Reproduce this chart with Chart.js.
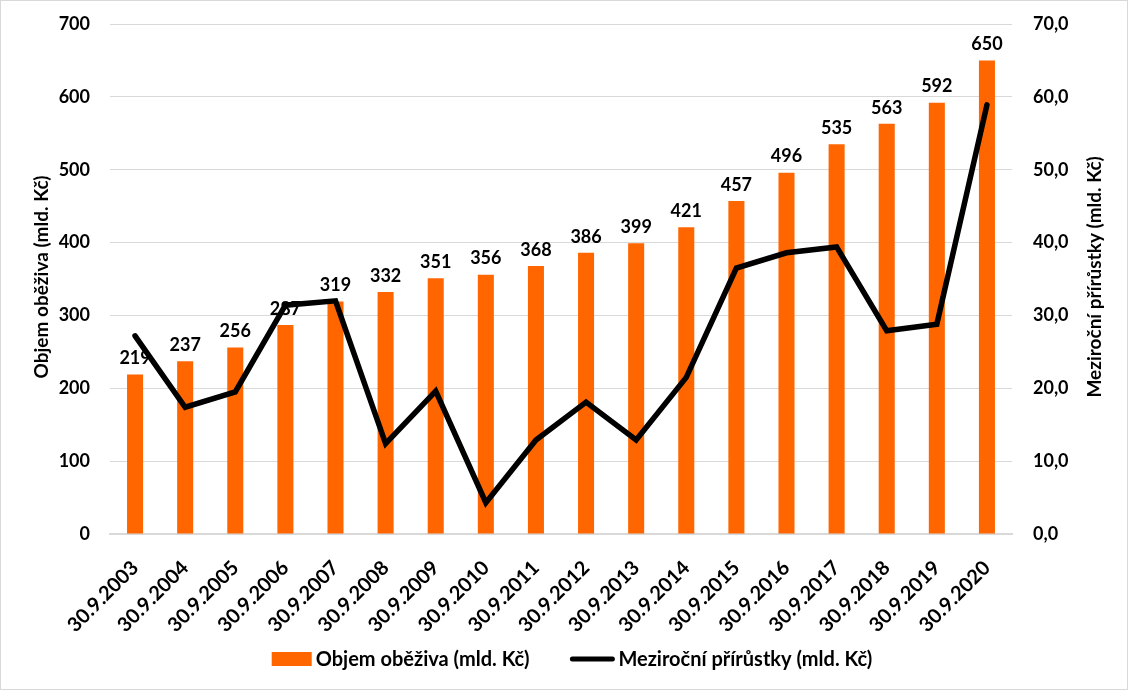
<!DOCTYPE html>
<html><head><meta charset="utf-8">
<script src="https://cdn.jsdelivr.net/npm/chart.js@4/dist/chart.umd.min.js"></script>
<style>
html,body{margin:0;padding:0;background:#fff;}
#wrap{position:relative;width:1126px;height:688px;border:1px solid #d9d9d9;}
</style></head><body>
<div id="wrap"><canvas id="c" width="1126" height="688"></canvas></div>
<script>
const categories = ["30.9.2003","30.9.2004","30.9.2005","30.9.2006","30.9.2007","30.9.2008","30.9.2009","30.9.2010","30.9.2011","30.9.2012","30.9.2013","30.9.2014","30.9.2015","30.9.2016","30.9.2017","30.9.2018","30.9.2019","30.9.2020"];
const objem = [219,237,256,287,319,332,351,356,368,386,399,421,457,496,535,563,592,650];
const prirustky = [27.2,17.4,19.5,31.4,32.0,12.4,19.6,4.3,12.9,18.1,12.9,21.5,36.5,38.6,39.4,27.9,28.8,58.9];
const leftTicks = [0,100,200,300,400,500,600,700];
const rightTicks = [0,10,20,30,40,50,60,70];
const barName = "Objem oběživa (mld. Kč)";
const lineName = "Meziroční přírůstky (mld. Kč)";
const barColor = "#FF6600";
const lineColor = "#000000";

const FONT = "Lato, 'Liberation Sans', sans-serif";

function zeroPad(s){ s.paddingTop = 0; s.paddingBottom = 0; s.paddingLeft = 0; s.paddingRight = 0; }

const extrasPlugin = {
  id: 'extras',
  afterDatasetDraw(chart, args) {
    if (args.index !== 0) return;
    const ctx = chart.ctx;
    ctx.save();
    ctx.font = "bold 18px " + FONT;
    ctx.fillStyle = "#000";
    ctx.textAlign = "center";
    ctx.textBaseline = "bottom";
    args.meta.data.forEach((el, i) => {
      ctx.fillText(String(objem[i]), el.x, el.y - 7);
    });
    ctx.restore();
  },
  afterDraw(chart) {
    const ctx = chart.ctx;
    const a = chart.chartArea;
    const cy = (a.top + a.bottom) / 2 - 2;
    [[41, barName], [1094, lineName]].forEach(([x, t]) => {
      ctx.save();
      ctx.font = "bold 19px " + FONT;
      ctx.fillStyle = "#000";
      ctx.textAlign = "center";
      ctx.textBaseline = "middle";
      ctx.translate(x, cy);
      ctx.rotate(-Math.PI/2);
      ctx.fillText(t, 0, 0);
      ctx.restore();
    });
    ctx.save();
    ctx.font = "bold 20px " + FONT;
    ctx.textBaseline = "middle";
    ctx.textAlign = "left";
    const w1 = ctx.measureText(barName).width;
    const w2 = ctx.measureText(lineName).width;
    const boxW = 40, gapT = 4, gapItems = 41;
    const total = boxW + gapT + w1 + gapItems + boxW + 2 + gapT + w2;
    let x = 570 - total / 2;
    const y = 658;
    ctx.fillStyle = barColor;
    ctx.fillRect(x, y - 7, boxW, 14);
    x += boxW + gapT;
    ctx.fillStyle = "#000";
    ctx.fillText(barName, x, y + 1);
    x += w1 + gapItems;
    ctx.strokeStyle = lineColor;
    ctx.lineWidth = 5;
    ctx.lineCap = "round";
    ctx.beginPath();
    ctx.moveTo(x + 2, y);
    ctx.lineTo(x + boxW + 2, y);
    ctx.stroke();
    x += boxW + 4 + gapT;
    ctx.fillText(lineName, x, y + 1);
    ctx.restore();
  }
};

new Chart(document.getElementById('c'), {
  type: 'bar',
  data: {
    labels: categories,
    datasets: [
      { type:'bar', label: barName, data: objem, backgroundColor: barColor, borderWidth:0,
        yAxisID:'y', order:1, barPercentage:0.64, categoryPercentage:0.5 },
      { type:'line', label: lineName, data: prirustky, borderColor: lineColor, backgroundColor: lineColor,
        borderWidth:5.5, pointRadius:0, tension:0, yAxisID:'y1', order:0,
        borderJoinStyle:'miter', borderCapStyle:'round' }
    ]
  },
  options: {
    responsive:false, animation:false,
    layout:{ padding:{ top:23, bottom:0, left:0, right:0 } },
    plugins:{ tooltip:{enabled:false}, legend:{ display:false } },
    scales:{
      x:{
        grid:{ display:false, drawTicks:false },
        border:{ display:true, color:'#d9d9d9', width:2 },
        ticks:{ minRotation:45, maxRotation:45, color:'#000', padding:22, autoSkip:false,
          font:{ family:FONT, size:20, weight:'bold' } },
        afterFit(s){ s.height = 155; zeroPad(s); }
      },
      y:{
        position:'left', min:0, max:700,
        afterBuildTicks(s){ s.ticks = leftTicks.map(v=>({value:v})); },
        grid:{ color:'#d9d9d9', lineWidth:1, drawTicks:false },
        border:{ display:false },
        ticks:{ color:'#000', padding:20, font:{ family:FONT, size:18, weight:'bold' } },
        afterFit(s){ s.width = 109; zeroPad(s); }
      },
      y1:{
        position:'right', min:0, max:70,
        afterBuildTicks(s){ s.ticks = rightTicks.map(v=>({value:v})); },
        grid:{ display:false, drawTicks:false },
        border:{ display:false },
        ticks:{ color:'#000', padding:21, font:{ family:FONT, size:18, weight:'bold' },
          callback:(v)=> v.toFixed(1).replace('.', ',') },
        afterFit(s){ s.width = 115; zeroPad(s); }
      }
    }
  },
  plugins:[extrasPlugin]
});
</script>
</body></html>
